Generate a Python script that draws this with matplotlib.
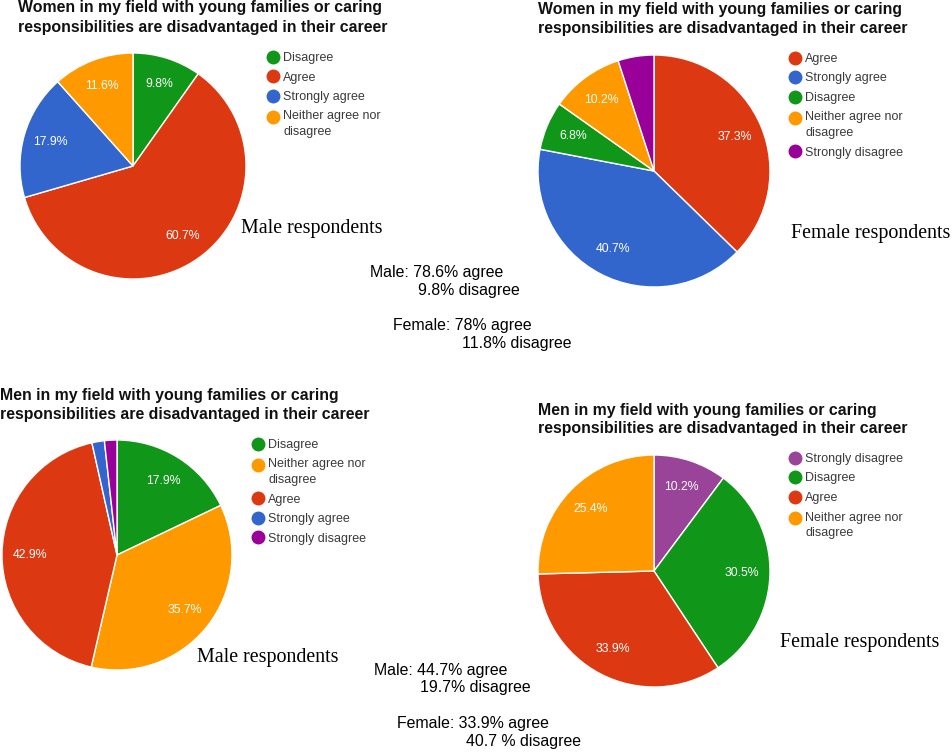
import matplotlib
matplotlib.use("Agg")
import matplotlib.pyplot as plt
from matplotlib.legend import Legend
from matplotlib.legend_handler import HandlerLine2D
from matplotlib.lines import Line2D

W, H = 952, 752

RED = "#dc3912"
BLUE = "#3366cc"
ORANGE = "#ff9900"
GREEN = "#109618"
PURPLE = "#990099"
MAUVE = "#994499"

NEITHER = "Neither agree nor\ndisagree"

# top-left: women disadvantaged, male respondents
women_male_labels = ["Disagree", "Agree", "Strongly agree", NEITHER]
women_male_values = [9.8, 60.7, 17.9, 11.6]
women_male_colors = [GREEN, RED, BLUE, ORANGE]

# top-right: women disadvantaged, female respondents
women_female_labels = ["Agree", "Strongly agree", "Disagree", NEITHER, "Strongly disagree"]
women_female_values = [37.3, 40.7, 6.8, 10.2, 5.0]
women_female_colors = [RED, BLUE, GREEN, ORANGE, PURPLE]

# bottom-left: men disadvantaged, male respondents
men_male_labels = ["Disagree", NEITHER, "Agree", "Strongly agree", "Strongly disagree"]
men_male_values = [17.9, 35.7, 42.9, 1.75, 1.75]
men_male_colors = [GREEN, ORANGE, RED, BLUE, PURPLE]

# bottom-right: men disadvantaged, female respondents
men_female_labels = ["Strongly disagree", "Disagree", "Agree", NEITHER]
men_female_values = [10.2, 30.5, 33.9, 25.4]
men_female_colors = [MAUVE, GREEN, RED, ORANGE]

TITLE_WOMEN = ["Women in my field with young families or caring",
               "responsibilities are disadvantaged in their career"]
TITLE_MEN = ["Men in my field with young families or caring",
             "responsibilities are disadvantaged in their career"]

SANS = "Liberation Sans"
SERIF = "Liberation Serif"

fig = plt.figure(figsize=(W / 100, H / 100), dpi=100)
ax0 = fig.add_axes([0, 0, 1, 1])
ax0.set_xlim(0, W)
ax0.set_ylim(H, 0)
ax0.axis("off")


class FirstLineHandler(HandlerLine2D):
    # put the dot next to the first line of a wrapped label, like Google Charts
    def __init__(self, shift, **kw):
        super().__init__(**kw)
        self.shift = shift

    def create_artists(self, *args, **kw):
        arts = super().create_artists(*args, **kw)
        for a in arts:
            a.set_ydata([y + self.shift for y in a.get_ydata()])
        return arts


def pct(p):
    return f"{p:.1f}%" if p > 6 else ""


def draw_pie(values, colors, labels, cx, cy, r, legend_xy):
    pad = 1.05
    rect = [(cx - r * pad) / W, 1 - (cy + r * pad) / H, 2 * r * pad / W, 2 * r * pad / H]
    ax = fig.add_axes(rect)
    ax.pie(
        values, colors=colors, startangle=90, counterclock=False,
        autopct=pct, pctdistance=0.76,
        wedgeprops=dict(edgecolor="white", linewidth=1.0),
        textprops=dict(color="white", fontsize=8.8, family=SANS),
    )
    ax.set_xlim(-pad, pad)
    ax.set_ylim(-pad, pad)
    ax.set_aspect("equal")

    handles = [Line2D([], [], marker="o", linestyle="", color=c, markersize=9)
               for c in colors]
    hmap = {h: FirstLineHandler(5.6) for h, lab in zip(handles, labels) if "\n" in lab}
    lx, ly = legend_xy
    leg = Legend(ax0, handles, labels, loc="upper left", bbox_to_anchor=(lx, ly),
                 bbox_transform=ax0.transData, frameon=False, borderpad=0,
                 borderaxespad=0, handlelength=0.75, handletextpad=0.45,
                 labelspacing=0.6, prop=dict(family=SANS, size=9),
                 labelcolor="#3a3a3a", handler_map=hmap)
    for t in leg.get_texts():
        t.set_linespacing(1.4)
    ax0.add_artist(leg)
    return ax


def add_title(lines, x, y1, y2):
    for line, y in zip(lines, (y1, y2)):
        ax0.text(x, y, line, fontsize=11.4, fontweight="bold", family=SANS,
                 color="#111111", va="baseline", ha="left")


draw_pie(women_male_values, women_male_colors, women_male_labels, 133, 166, 113, (268.3, 52))
draw_pie(women_female_values, women_female_colors, women_female_labels, 654, 171, 116, (790.3, 53))
draw_pie(men_male_values, men_male_colors, men_male_labels, 117, 555, 115, (253.3, 439))
draw_pie(men_female_values, men_female_colors, men_female_labels, 654, 571, 116, (790.3, 453))

add_title(TITLE_WOMEN, 18, 12, 32)
add_title(TITLE_WOMEN, 538, 14, 33)
add_title(TITLE_MEN, 0, 400, 419)
add_title(TITLE_MEN, 538, 415, 433)

serif_kw = dict(fontsize=14.4, family=SERIF, color="black", va="baseline", ha="left")
ax0.text(241, 233, "Male respondents", **serif_kw)
ax0.text(791, 238, "Female respondents", **serif_kw)
ax0.text(197, 662, "Male respondents", **serif_kw)
ax0.text(780, 647, "Female respondents", **serif_kw)

note_kw = dict(fontsize=11.4, family=SANS, color="black", va="baseline", ha="left")
ax0.text(370, 277, "Male: 78.6% agree", **note_kw)
ax0.text(418, 295, "9.8% disagree", **note_kw)
ax0.text(393, 330, "Female: 78% agree", **note_kw)
ax0.text(462, 348, "11.8% disagree", **note_kw)
ax0.text(374, 675, "Male: 44.7% agree", **note_kw)
ax0.text(420, 692, "19.7% disagree", **note_kw)
ax0.text(397, 728, "Female: 33.9% agree", **note_kw)
ax0.text(466, 746, "40.7 % disagree", **note_kw)

fig.savefig("out.png", dpi=100, facecolor="white")
